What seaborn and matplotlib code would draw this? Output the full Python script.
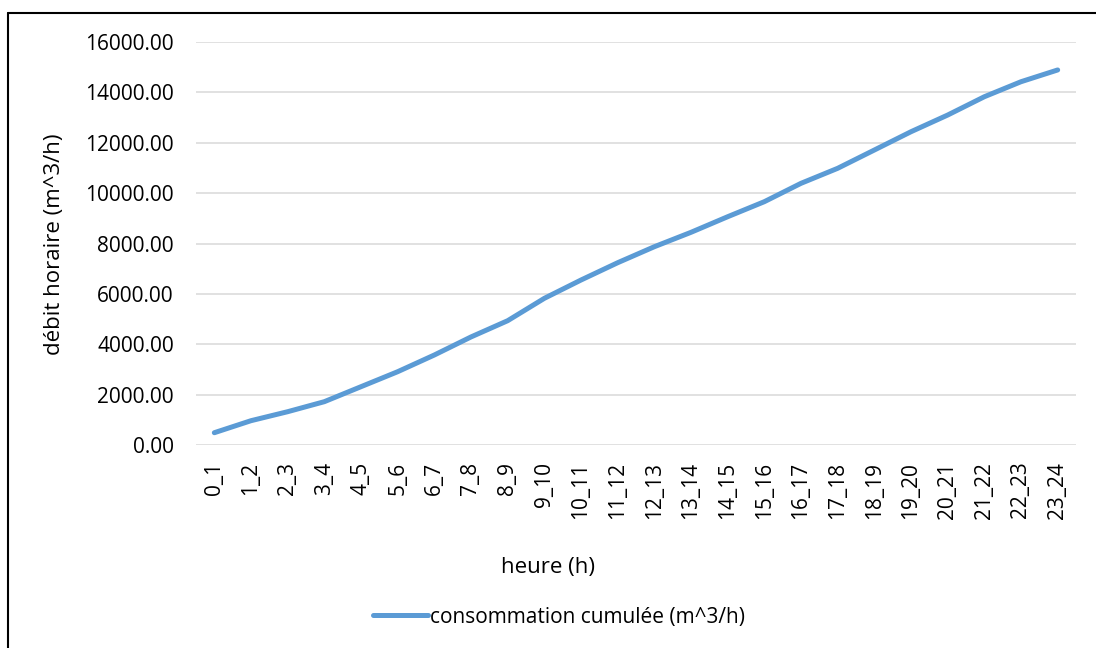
import matplotlib
matplotlib.use("Agg")
import matplotlib.pyplot as plt
from matplotlib.lines import Line2D
from matplotlib.ticker import FuncFormatter
import seaborn as sns
import pandas as pd

# Hourly slots and cumulative consumption (m^3/h)
heures = ["0_1", "1_2", "2_3", "3_4", "4_5", "5_6", "6_7", "7_8", "8_9", "9_10",
          "10_11", "11_12", "12_13", "13_14", "14_15", "15_16", "16_17", "17_18",
          "18_19", "19_20", "20_21", "21_22", "22_23", "23_24"]
consommation_cumulee = [488, 965, 1322, 1720, 2315, 2910, 3573, 4290, 4935, 5823,
                        6550, 7237, 7872, 8444, 9063, 9660, 10389, 10985, 11711,
                        12438, 13100, 13827, 14423, 14890]
y_ticks = [0, 2000, 4000, 6000, 8000, 10000, 12000, 14000, 16000]

sns.set_theme(style="white")
plt.rcParams["font.family"] = ["Open Sans", "DejaVu Sans"]
plt.rcParams["text.color"] = "black"

df = pd.DataFrame({"heure": heures, "valeur": consommation_cumulee})

fig = plt.figure(figsize=(10.96, 6.48), dpi=100)
ax = fig.add_axes([196 / 1096, 1 - 445 / 648, 880 / 1096, 403 / 648])

blue = "#5B9BD5"
sns.lineplot(data=df, x="heure", y="valeur", ax=ax, color=blue, linewidth=3.6,
             solid_capstyle="round", sort=False, legend=False)

ax.set_xlim(-0.5, len(heures) - 0.5)
ax.set_ylim(0, 16000)
ax.set_yticks(y_ticks)
ax.yaxis.set_major_formatter(FuncFormatter(lambda v, _: f"{v:.2f}"))
ax.set_xticks(range(len(heures)))
ax.set_xticklabels(heures, rotation=90, fontsize=15, color="black")
ax.tick_params(axis="y", labelsize=15, labelcolor="black", length=0, pad=16)
ax.tick_params(axis="x", length=0, pad=12)

ax.grid(axis="y", color="#D9D9D9", linewidth=1.1)
ax.grid(axis="x", visible=False)
for s in ax.spines.values():
    s.set_visible(False)

ax.set_xlabel("")
ax.set_ylabel("")

fig.text(55 / 1096, 1 - 244 / 648, "débit horaire (m^3/h)", rotation=90,
         ha="center", va="center", fontsize=16, color="black")
fig.text(548 / 1096, 1 - 568 / 648, "heure (h)", ha="center", va="center",
         fontsize=16, color="black")

handle = Line2D([], [], color=blue, linewidth=3.6, solid_capstyle="round")
leg = fig.legend([handle], ["consommation cumulée (m^3/h)"], loc="center",
                 bbox_to_anchor=(559 / 1096, 1 - 617 / 648), frameon=False,
                 fontsize=15, handlelength=2.6, handletextpad=0.1)
for t in leg.get_texts():
    t.set_color("black")

# Chart-area frame (top and left edges)
fig.add_artist(Line2D([8 / 1096, 8 / 1096], [0, 1 - 13 / 648],
                      color="black", linewidth=1.5, transform=fig.transFigure))
fig.add_artist(Line2D([8 / 1096, 1], [1 - 13 / 648, 1 - 13 / 648],
                      color="black", linewidth=1.5, transform=fig.transFigure))

fig.savefig("out.png", dpi=100, facecolor="white")
